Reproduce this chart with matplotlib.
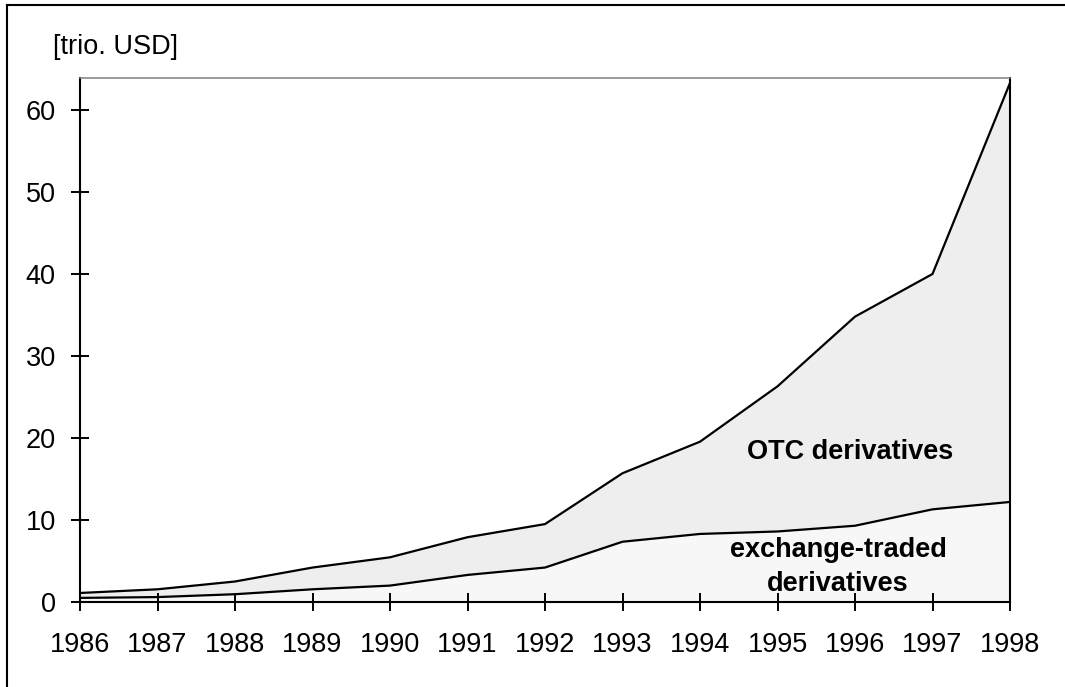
import numpy as np
import matplotlib
matplotlib.use("Agg")
import matplotlib.pyplot as plt
from matplotlib.lines import Line2D

plt.rcParams['font.family'] = ['Liberation Sans', 'DejaVu Sans']

years = np.arange(1986, 1999)
# exchange-traded derivatives (trio. USD)
exchange = [0.5, 0.6, 0.95, 1.55, 2.0, 3.3, 4.2, 7.35, 8.3, 8.6, 9.3, 11.3, 12.2]
# total (exchange-traded + OTC)
total = [1.1, 1.55, 2.5, 4.2, 5.45, 7.9, 9.5, 15.7, 19.55, 26.3, 34.8, 40.0, 63.3]
yticks = [0, 10, 20, 30, 40, 50, 60]

fs = 19.5
fig = plt.figure(figsize=(10.65, 6.87), dpi=100)
ax = fig.add_axes([80/1065, 1-602/687, 930/1065, 524/687])

ax.fill_between(years, 0, exchange, color="#f7f7f7", lw=0)
ax.fill_between(years, exchange, total, color="#eeeeee", lw=0)
ax.plot(years, exchange, color="black", lw=1.6)
ax.plot(years, total, color="black", lw=1.6)

ax.set_xlim(1986, 1998)
ax.set_ylim(0, 63.9)
ax.set_xticks(years)
ax.set_yticks(yticks)
ax.tick_params(direction="inout", length=13, width=1.4, labelsize=fs, color="black")
ax.tick_params(axis="x", pad=15)
ax.tick_params(axis="y", pad=11)

for s in ["left", "bottom", "right"]:
    ax.spines[s].set_linewidth(1.5)
    ax.spines[s].set_color("black")
ax.spines["top"].set_color("#808080")
ax.spines["top"].set_linewidth(1.1)

ax.text(1995.94, 18.3, "OTC derivatives", fontsize=fs, fontweight="bold",
        ha="center", va="center")
ax.text(1995.78, 4.3, "exchange-traded\nderivatives", fontsize=fs, fontweight="bold",
        ha="center", va="center", linespacing=1.4)

fig.text(53/1065, 1-47/687, "[trio. USD]", fontsize=fs, ha="left", va="center")

# outer frame (left and top only)
fig.add_artist(Line2D([7/1065, 7/1065], [0, 1-5/687], color="black", lw=1.5,
                      transform=fig.transFigure))
fig.add_artist(Line2D([7/1065, 1], [1-5/687, 1-5/687], color="black", lw=1.5,
                      transform=fig.transFigure))

fig.savefig("out.png", dpi=100)
